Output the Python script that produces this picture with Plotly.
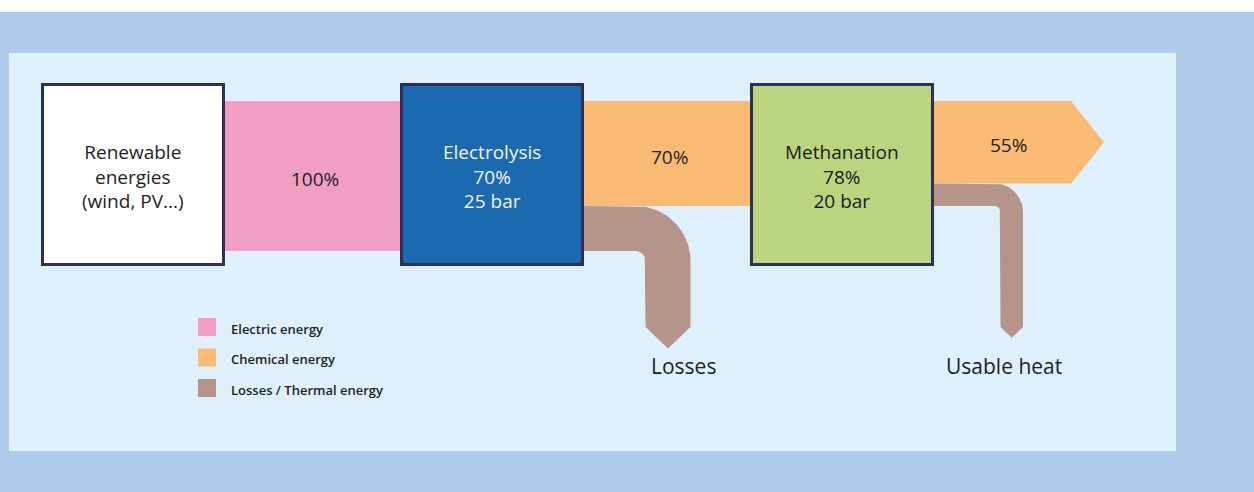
import numpy as np
import plotly.graph_objects as go

# ---------------- data ----------------
node_names = [["Renewable", "energies", "(wind, PV...)"], ["Electrolysis"], ["Methanation"]]
node_efficiency = [None, 70, 78]          # %
node_pressure = [None, 25, 20]            # bar
flow_values = [100, 70, 55]               # % of input energy carried forward
flow_kinds = ["Electric energy", "Chemical energy", "Chemical energy"]
outlet_values = [30, 15]                  # % leaving as losses / heat
outlet_labels = ["Losses", "Usable heat"]
legend_labels = ["Electric energy", "Chemical energy", "Losses / Thermal energy"]

# ---------------- styles / layout constants ----------------
W, H = 1254, 492
FONT = "Open Sans"
col = {"Electric energy": "#F29DC4", "Chemical energy": "#F9BA74",
       "Losses / Thermal energy": "#B59489"}
node_fill = ["#FFFFFF", "#1B69AF", "#BBD57E"]
node_text_col = ["#1E1E1E", "#F2F6FB", "#1A1A1A"]
border = "#302D58"
k = 1.5            # px per %
band_top = 101
node_x0 = [42.5, 401.5, 751.5]
node_w = 181
node_y0, node_y1 = 84.5, 264.5
node_text_cy = 176.5
pipe_inner_x = [645.5, 1000.5]
pipe_inner_r = [10, 6]
pipe_end_y = 327
label_dx = [15, -8]
arrow_end_x, arrow_tip_x = 1071, 1104

fig = go.Figure()

def poly(xs, ys, color):
    fig.add_trace(go.Scatter(x=xs, y=ys, mode="lines", fill="toself",
                             fillcolor=color, line=dict(width=0, color=color),
                             hoverinfo="skip", showlegend=False))

# main flow bands
for i, v in enumerate(flow_values):
    y0, y1 = band_top, band_top + v * k
    xs0 = node_x0[i] + node_w - 2
    if i < len(flow_values) - 1:
        xs1 = node_x0[i + 1] + 2
        poly([xs0, xs1, xs1, xs0, xs0], [y0, y0, y1, y1, y0], col[flow_kinds[i]])
        cx = (xs0 + xs1) / 2 + 2
    else:
        ym = (y0 + y1) / 2
        poly([xs0, arrow_end_x, arrow_tip_x, arrow_end_x, xs0, xs0],
             [y0, y0, ym, y1, y1, y0], col[flow_kinds[i]])
        cx = (xs0 + arrow_end_x + 16) / 2
    fig.add_annotation(x=cx, y=(y0 + y1) / 2 + 3, text=f"{v}%", showarrow=False,
                       font=dict(family=FONT, size=19, color="#1E1E1E", weight=400))

# loss / heat pipes
for j, v in enumerate(outlet_values):
    w = v * k
    ytop = band_top + flow_values[j + 1] * k
    ybot = ytop + w
    xs = node_x0[j + 1] + node_w - 2
    xi, r = pipe_inner_x[j], pipe_inner_r[j]
    cxa, cya = xi - r, ybot + r
    R = w + r
    t = np.linspace(-np.pi / 2, 0, 30)
    outer_x = cxa + R * np.cos(t)
    outer_y = cya + R * np.sin(t)
    inner_x = cxa + r * np.cos(t[::-1])
    inner_y = cya + r * np.sin(t[::-1])
    tip = 0.48 * w
    xs_all = ([xs] + list(outer_x) + [xi + w, xi + w / 2, xi] + list(inner_x) + [xs, xs])
    ys_all = ([ytop] + list(outer_y) + [pipe_end_y, pipe_end_y + tip, pipe_end_y]
              + list(inner_y) + [ybot, ytop])
    poly(xs_all, ys_all, col["Losses / Thermal energy"])
    fig.add_annotation(x=xi + w / 2 + label_dx[j], y=366, text=outlet_labels[j],
                       showarrow=False,
                       font=dict(family=FONT, size=21, color="#1E1E1E", weight=400))

# nodes
for i, name in enumerate(node_names):
    fig.add_shape(type="rect", x0=node_x0[i], x1=node_x0[i] + node_w,
                  y0=node_y0, y1=node_y1, fillcolor=node_fill[i],
                  line=dict(color=border, width=3), layer="above")
    lines = list(name)
    if node_efficiency[i] is not None:
        lines += [f"{node_efficiency[i]}%", f"{node_pressure[i]} bar"]
    fig.add_annotation(x=node_x0[i] + node_w / 2, y=node_text_cy,
                       text="<br>".join(lines), showarrow=False,
                       font=dict(family=FONT, size=19, color=node_text_col[i],
                                 weight=400))

# legend (manual)
leg_y = [327, 357.5, 388]
fig.add_trace(go.Scatter(x=[207] * 3, y=leg_y, mode="markers",
                         marker=dict(symbol="square", size=18,
                                     color=[col[l] for l in legend_labels]),
                         hoverinfo="skip", showlegend=False))
for l, y in zip(legend_labels, leg_y):
    fig.add_annotation(x=229, y=y + 1.5, text=l, showarrow=False, xanchor="left",
                       font=dict(family=FONT, size=13, color="#1E1E1E", weight=600))

# background panels
fig.add_shape(type="rect", x0=0, x1=W, y0=12, y1=H, fillcolor="#AFCBEB",
              line=dict(width=0), layer="below")
fig.add_shape(type="rect", x0=9, x1=1176, y0=53, y1=451, fillcolor="#DFF0FD",
              line=dict(width=0), layer="below")

fig.update_layout(width=W, height=H, margin=dict(l=0, r=0, t=0, b=0),
                  paper_bgcolor="#FFFFFF", plot_bgcolor="#FFFFFF",
                  xaxis=dict(range=[0, W], visible=False, fixedrange=True),
                  yaxis=dict(range=[H, 0], visible=False, fixedrange=True),
                  showlegend=False)

fig.write_html("out.html", config={"displayModeBar": False, "staticPlot": True},
               post_script="document.body.style.margin='0';document.body.style.overflow='hidden';")
